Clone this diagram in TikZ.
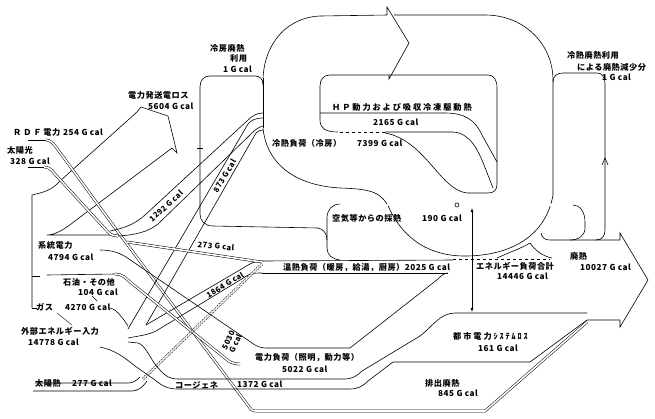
\documentclass[tikz,border=0pt]{standalone}
\usepackage{fontspec}
\newfontfamily\jp[LetterSpace=6]{Noto Sans CJK JP}
\usetikzlibrary{arrows.meta}
\newcommand\jgap{\kern1.9pt}
\tikzset{
  ln/.style={line width=0.6pt},
  dbl/.style={double, double distance=1.6pt, line width=0.5pt},
  hatch/.style={double, double distance=1.8pt, line width=0.45pt, dash pattern=on 1.6pt off 1pt},
  lbl/.style={font=\jp\bfseries\fontsize{8.2}{9}\selectfont, inner sep=0pt, anchor=west},
  rlbl/.style={font=\jp\bfseries\fontsize{7.6}{8}\selectfont, inner sep=0pt, anchor=center},
}
\begin{document}
\begin{tikzpicture}[x=1pt,y=-1pt]
\useasboundingbox (0,0) rectangle (655,418);
\fill[white] (0,0) rectangle (655,418);

% ---- 5604 arrow and left bracket
\draw[ln] (32,308) -- (32,195) .. controls (45,192) and (52,190) .. (60,181) -- (137,112) -- (141,107) -- (168,116) -- (177,153) -- (172,148) -- (75,221) .. controls (65,229) and (55,235) .. (47,235) -- (117,235);
\draw[ln] (32,308) -- (37,308);
\draw[ln] (32,276) -- (40,276);

% ---- RDF and solar power (double lines)
\draw[ln] (28,140) -- (46,140);
\draw[dbl] (46,140) .. controls (50,140) and (53,143) .. (56,147) -- (118,232) -- (250,408) .. controls (252,411) and (254,411) .. (258,411) -- (485,411) -- (587,322);
\draw[ln] (28,167) -- (44,167);
\draw[dbl] (44,167) .. controls (48,167) and (51,169) .. (54,173) -- (108,232) .. controls (111,235) and (114,236) .. (118,236);

% ---- 1292 band
\draw[ln] (110,231) .. controls (125,228) and (135,224) .. (145,215) -- (248,120) .. controls (253,115) and (258,113) .. (263,113);
\draw[ln] (118,236) .. controls (135,235) and (148,232) .. (158,224) -- (252,133) .. controls (256,129) and (259,127) .. (263,126);

% ---- 873 band
\draw[ln] (128,329) -- (248,124) .. controls (251,120) and (256,118) .. (263,118);
\draw[ln] (146,325) -- (256,133) .. controls (258,131) and (260,130) .. (263,130);

% ---- 1864 band
\draw[ln] (146,325) -- (250,264) .. controls (254,262) and (258,261) .. (262,261);
\draw[ln] (128,338) .. controls (138,336) and (148,335) .. (156,331) -- (250,274) .. controls (254,273) and (258,273) .. (262,273);

% ---- 273 band
\draw[dbl] (127,242) -- (262,262);

% ---- oil band
\draw[ln] (47,275) -- (115,274);
\draw[dbl] (115,274) .. controls (122,274) and (126,278) .. (130,282) -- (225,358) .. controls (229,362) and (233,364) .. (240,364);

% ---- gas line
\draw[ln] (110,308) .. controls (118,310) and (120,316) .. (124,320) -- (128,326);

% ---- solar heat band
\draw[ln] (35,383) -- (128,383) .. controls (133,383) and (136,381) .. (140,377);
\draw[ln] (33,391) -- (132,391) .. controls (138,391) and (143,387) .. (147,381);
\draw[hatch] (143,379) -- (262,264);

% ---- 5030 band / electric load
\draw[ln] (100,250) .. controls (110,250) and (118,252) .. (126,257) -- (252,343) .. controls (256,346) and (260,348) .. (266,348) -- (350,348) -- (438,279) .. controls (441,276) and (444,273) .. (448,273);

% ---- cogeneration band / city power loss
\draw[ln] (128,342) -- (138,343) .. controls (146,345) and (150,360) .. (160,370) .. controls (165,376) and (170,379) .. (178,379) -- (345,379) .. controls (352,379) and (357,376) .. (362,371) -- (420,336) .. controls (432,327) and (440,313) .. (455,313) -- (587,313);
\draw[ln] (100,347) .. controls (115,350) and (125,358) .. (135,366) -- (155,380) .. controls (162,386) and (168,389) .. (178,389) -- (350,389) .. controls (358,389) and (363,386) .. (368,381) -- (393,362) -- (530,362) -- (587,320);

% ---- warm load band
\draw[ln] (262,261) -- (453,260);
\draw[ln, dashed] (453,259) -- (550,259);
\draw[ln] (262,273) -- (448,273);

% ---- big cold loop
\draw[ln] (263,78) -- (263,128);
\draw[ln] (263,78) .. controls (265,40) and (290,17) .. (320,16) -- (387,15) -- (387,7) -- (409,43) -- (389,79) -- (389,75);
\draw[ln] (394,15) -- (485,15) .. controls (525,15) and (553,45) .. (553,80) -- (553,195);
\draw[ln] (263,128) .. controls (266,160) and (290,185) .. (340,188) .. controls (372,189) and (382,192) .. (390,210) .. controls (405,240) and (430,256) .. (465,256) .. controls (505,256) and (545,240) .. (553,195);

% ---- HP box
\draw[ln] (330,75) -- (488,75) .. controls (494,75) and (497,80) .. (497,88) -- (497,184) .. controls (497,190) and (494,193) .. (488,193) -- (467,193) .. controls (440,190) and (425,140) .. (385,133);
\draw[ln, dashed] (385,132) -- (338,132);
\draw[ln] (338,132) .. controls (325,132) and (320,128) .. (320,120) -- (320,86) .. controls (320,79) and (324,75) .. (330,75);
\draw[ln] (320,113) -- (445,113) .. controls (465,113) and (475,120) .. (482,135) -- (497,162);
\draw[ln] (385,132) -- (453,132) .. controls (470,133) and (478,150) .. (484,165) -- (493,188);

% ---- cooling waste heat loop (left)
\draw[ln] (263,85) .. controls (263,79) and (260,76) .. (255,76) -- (210,76) .. controls (204,76) and (200,80) .. (200,87) -- (200,214) .. controls (200,221) and (205,226) .. (213,226) -- (318,228) .. controls (323,229) and (327,233) .. (327,240);
\draw[ln] (197,148) -- (203,148);

% ---- cooling waste heat loop (right)
\draw[ln] (553,82) .. controls (553,76) and (557,73) .. (563,73) -- (597,73) .. controls (602,73) and (605,77) .. (605,84) -- (605,230) .. controls (605,236) and (602,240) .. (596,240);
\draw[ln] (602,165) -- (605,158) -- (608,165);

% ---- 190 loop
\draw[dbl] (340,205) -- (573,205);
\draw[ln] (340,204) .. controls (332,204) and (327,210) .. (327,218) -- (327,248) .. controls (327,255) and (332,259) .. (340,260);
\draw[ln] (573,205) .. controls (580,205) and (585,212) .. (585,222) -- (585,228) .. controls (585,236) and (578,240) .. (570,240);
\draw[ln] (497,258) .. controls (510,252) and (522,248) .. (530,243);
\draw[ln] (530,243) .. controls (535,250) and (542,256) .. (552,258);
\draw[ln, fill=white] (457,205) circle (2pt);

% ---- waste heat arrow
\draw[ln] (541,233) .. controls (542,238) and (545,240) .. (550,240) -- (620,240) -- (620,233) -- (648,280) -- (620,327) -- (620,320) -- (587,320);

% ---- energy load total arrow
\draw[ln, {Latex[length=4pt,width=3pt]}-{Latex[length=4pt,width=3pt]}] (472,208) -- (472,312);

% ---- leaders
\draw[line width=0.4pt] (57,313) -- (72,325);
\draw[line width=0.4pt] (92,296) -- (97,301);

% ---- labels
\node[lbl] (t1) at (13,132) {Ｒ\jgap Ｄ\jgap Ｆ\jgap 電力};
\node[lbl] (t1b) at (63,132) {254 G cal};
\node[lbl] (t2) at (7,150) {太陽光};
\node[lbl] (t2b) at (10,161) {328 G cal};
\node[lbl] (t3) at (38,245) {系統電力};
\node[lbl] (t3b) at (48,257) {4794 G cal};
\node[lbl] (t4) at (63,282) {石油・その他};
\node[lbl] (t4b) at (78,292) {104 G cal};
\node[lbl] (t5) at (36,307) {ガス};
\node[lbl] (t5b) at (65,307) {4270 G cal};
\node[lbl] (t6) at (21,331) {外部エネルギー入力};
\node[lbl] (t6b) at (28,342) {14778 G cal};
\node[lbl] (t7) at (35,383) {太陽熱};
\node[lbl] (t7b) at (72,383) {277 G cal};
\node[lbl] (t8) at (128,95) {電力発送電ロス};
\node[lbl] (t8b) at (148,106) {5604 G cal};
\node[lbl] (t9) at (210,48) {冷房廃熱};
\node[lbl] (t9b) at (230,58) {利用};
\node[lbl] (t9c) at (223,69) {1 G cal};
\node[lbl] (t10) at (567,55) {冷熱廃熱利用};
\node[lbl] (t10b) at (577,67) {による廃熱減少分};
\node[lbl] (t10c) at (602,77) {1 G cal};
\node[lbl] (t11) at (332,107) {Ｈ\jgap Ｐ\jgap 動\jgap 力\jgap お\jgap よ\jgap び\jgap 吸\jgap 収\jgap 冷\jgap 凍\jgap 駆\jgap 動\jgap 熱};
\node[lbl] (t11b) at (373,122) {2165 G cal};
\node[lbl] (t12) at (272,143) {冷熱負荷（冷房）};
\node[lbl] (t12b) at (357,143) {7399 G cal};
\node[lbl] (t13) at (332,218) {空気等からの採熱};
\node[lbl] (t13b) at (422,218) {190 G cal};
\node[lbl] (t14) at (283,268) {温熱負荷（暖房，給湯，厨房）2025 G cal};
\node[lbl] (t15) at (476,266) {エネルギー負荷合計};
\node[lbl] (t15b) at (497,276) {14446 G cal};
\node[lbl] (t16) at (570,256) {廃熱};
\node[lbl] (t16b) at (580,267) {10027 G cal};
\node[lbl] (t17) at (453,336) {都\jgap 市\jgap 電\jgap 力\jgap ｼ\jgap ｽ\jgap ﾃ\jgap ﾑ\jgap ﾛ\jgap ｽ};
\node[lbl] (t17b) at (478,348) {161 G cal};
\node[lbl] (t18) at (425,383) {排出廃熱};
\node[lbl] (t18b) at (438,393) {845 G cal};
\node[lbl] (t19) at (255,358) {電力負荷（照明，動力等）};
\node[lbl] (t19b) at (282,369) {5022 G cal};
\node[lbl] (t20) at (175,385) {コージェネ};
\node[lbl] (t20b) at (237,384) {1372 G cal};
\node[rlbl, rotate=42] (r1) at (166,206) {1292 G cal};
\node[rlbl, rotate=59] (r2) at (224.5,176) {873 G cal};
\node[rlbl, rotate=-6] (r3) at (216,246) {273 G cal};
\node[rlbl, rotate=31] (r4) at (225,285) {1864 G cal};
\node[rlbl, rotate=65, align=center] (r5) at (232,342) {5030\\G cal};
\end{tikzpicture}
\end{document}
